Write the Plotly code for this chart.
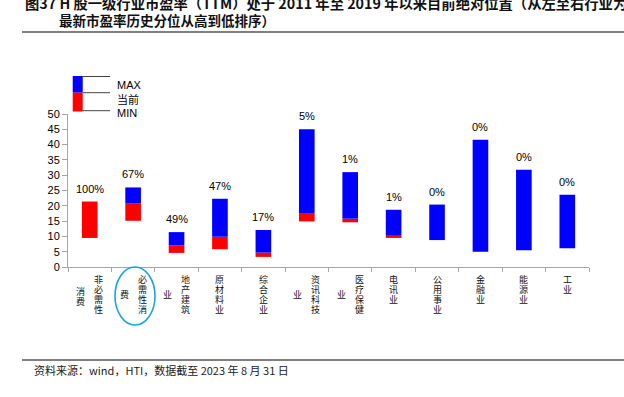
import plotly.graph_objects as go

categories = ["非必需性消费", "必需性消费", "地产建筑业", "原材料业", "综合企业", "资讯科技业",
              "医疗保健业", "电讯业", "公用事业", "金融业", "能源业", "工业"]
pe_max = [21.4, 26.0, 11.4, 22.3, 12.1, 45.0, 31.0, 18.7, 20.4, 41.6, 31.8, 23.6]
pe_cur = [21.4, 20.7, 7.1, 9.9, 4.7, 17.6, 15.8, 10.2, 8.8, 5.0, 5.5, 6.1]
pe_min = [9.5, 15.1, 4.6, 5.8, 3.3, 14.9, 14.6, 9.5, 8.8, 5.0, 5.5, 6.1]
pct_labels = ["100%", "67%", "49%", "47%", "17%", "5%", "1%", "1%", "0%", "0%", "0%", "0%"]
y_ticks = [0, 5, 10, 15, 20, 25, 30, 35, 40, 45, 50]

W, H = 624, 397
L, R, T, B = 68, 35, 114, 130
PW, PH = W - L - R, H - T - B

def px(x):
    return (x - L) / PW

def py(y):
    return (H - B - y) / PH

BLUE = "#0000FF"
RED = "#FF0000"
NUM_FONT = "Liberation Sans, Arial, sans-serif"
CJK_FONT = "Noto Sans CJK SC, sans-serif"

idx = list(range(len(categories)))
fig = go.Figure()
fig.add_trace(go.Bar(x=idx, y=[c - m for c, m in zip(pe_cur, pe_min)], base=pe_min,
                     marker=dict(color=RED, line=dict(width=0)), width=0.36, name="当前"))
fig.add_trace(go.Bar(x=idx, y=[mx - c for mx, c in zip(pe_max, pe_cur)], base=pe_cur,
                     marker=dict(color=BLUE, line=dict(width=0)), width=0.36, name="MAX"))

annotations = []
# percentile labels above bars
for i, (v, t) in enumerate(zip(pe_max, pct_labels)):
    annotations.append(dict(x=i, y=v, xref="x", yref="y", text=t, showarrow=False,
                            yanchor="middle", yshift=13,
                            font=dict(family=NUM_FONT, size=11, color="#000")))

# vertical category labels
pitch = 10.0
first = 12.5
for i, name in enumerate(categories):
    right = name[:4]
    left = name[4:]
    if left:
        xs_r, xs_l = 9, -9
    else:
        xs_r = 0
    for k, ch in enumerate(right):
        annotations.append(dict(x=i, y=0, xref="x", yref="paper", text=ch, showarrow=False,
                                xshift=xs_r, yshift=-(first + pitch * k), yanchor="middle",
                                borderpad=0,
                                font=dict(family=CJK_FONT, size=9, color="#111")))
    if left:
        n = len(left)
        mid = first + pitch * 1.5 + (1.5 if n > 1 else 0)
        for k, ch in enumerate(left):
            annotations.append(dict(x=i, y=0, xref="x", yref="paper", text=ch, showarrow=False,
                                    xshift=xs_l, yshift=-(mid + pitch * (k - (n - 1) / 2)),
                                    yanchor="middle", borderpad=0,
                                    font=dict(family=CJK_FONT, size=9, color="#111")))

# title
annotations.append(dict(x=px(23), y=py(3), xref="paper", yref="paper", xanchor="left", yanchor="middle",
                        text="<b>图37 H 股一级行业市盈率（TTM）处于 2011 年至 2019 年以来目前绝对位置（从左至右行业为</b>",
                        showarrow=False, font=dict(family=CJK_FONT, size=14.3, color="#111")))
annotations.append(dict(x=px(57), y=py(20), xref="paper", yref="paper", xanchor="left", yanchor="middle",
                        text="<b>最新市盈率历史分位从高到低排序）</b>",
                        showarrow=False, font=dict(family=CJK_FONT, size=13.5, color="#111")))
# source
annotations.append(dict(x=px(32), y=py(370), xref="paper", yref="paper", xanchor="left", yanchor="middle",
                        text="资料来源：wind，HTI，数据截至 2023 年 8 月 31 日",
                        showarrow=False, font=dict(family=CJK_FONT, size=11, color="#222")))
# legend texts
for txt, yy in [("MAX", 85), ("当前", 99), ("MIN", 112.5)]:
    annotations.append(dict(x=px(115), y=py(yy), xref="paper", yref="paper", xanchor="left",
                            yanchor="middle", text=txt, showarrow=False,
                            font=dict(family=NUM_FONT if txt != "当前" else CJK_FONT, size=11, color="#000")))

shapes = [
    dict(type="line", xref="paper", yref="paper", x0=px(22), x1=px(624), y0=py(32), y1=py(32),
         line=dict(color="#000", width=1.2)),
    dict(type="line", xref="paper", yref="paper", x0=px(22), x1=px(624), y0=py(360), y1=py(360),
         line=dict(color="#000", width=1.2)),
    # legend swatches
    dict(type="rect", xref="paper", yref="paper", x0=px(72.7), x1=px(82.7), y0=py(76), y1=py(92.7),
         fillcolor=BLUE, line=dict(width=0)),
    dict(type="rect", xref="paper", yref="paper", x0=px(72.7), x1=px(82.7), y0=py(92.7), y1=py(111.5),
         fillcolor=RED, line=dict(width=0)),
    # highlight ellipse
    dict(type="circle", xref="paper", yref="paper", x0=px(115), x1=px(155), y0=py(267), y1=py(325),
         line=dict(color="#1BA3E0", width=1.6)),
]
for yy in [76.5, 92.7, 110.7]:
    shapes.append(dict(type="line", xref="paper", yref="paper", x0=px(82.7), x1=px(110), y0=py(yy), y1=py(yy),
                       line=dict(color="#444", width=1)))

fig.update_layout(
    width=W, height=H, margin=dict(l=L, r=R, t=T, b=B),
    paper_bgcolor="white", plot_bgcolor="white",
    barmode="overlay", showlegend=False,
    annotations=annotations, shapes=shapes,
    xaxis=dict(range=[-0.5, len(categories) - 0.5], showticklabels=False,
               tickvals=[i - 0.5 for i in range(len(categories) + 1)],
               showline=True, linecolor="#A6A6A6", linewidth=1, ticks="outside", ticklen=4,
               tickcolor="#A6A6A6", showgrid=False, zeroline=False),
    yaxis=dict(range=[0, 50], tickvals=y_ticks, showline=True, linecolor="#A6A6A6", linewidth=1,
               ticks="outside", ticklen=5, tickcolor="#A6A6A6", showgrid=False, zeroline=False,
               tickfont=dict(family=NUM_FONT, size=11, color="#000")),
)

fig.write_html("out.html", config={"displayModeBar": False},
               post_script="document.body.style.margin='0';document.body.style.overflow='hidden';")
